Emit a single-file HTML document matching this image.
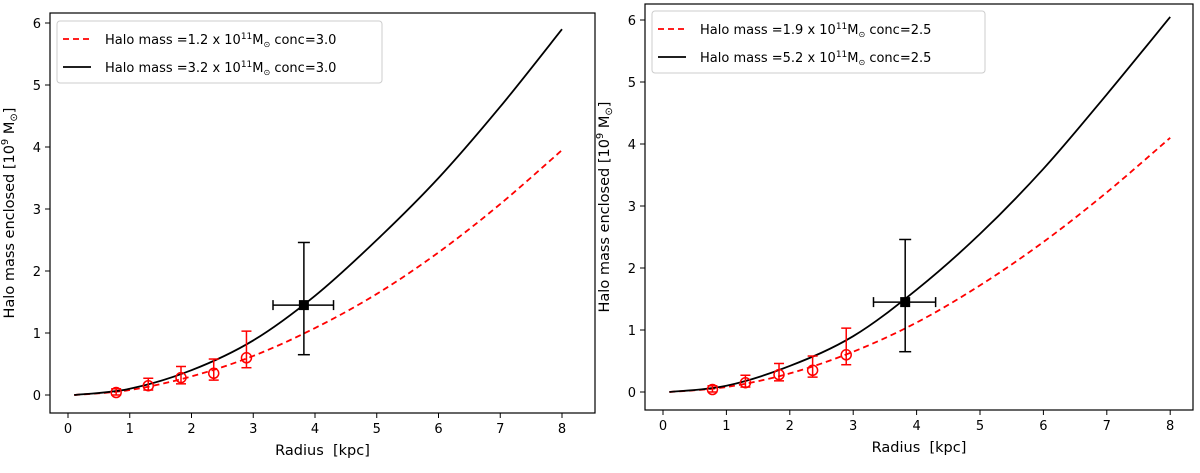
<!DOCTYPE html>
<html><head><meta charset="utf-8"><style>
body{margin:0;background:#fff;font-family:"Liberation Sans","DejaVu Sans",sans-serif}
text{font-family:"DejaVu Sans","Liberation Sans",sans-serif}
</style></head><body>
<svg id="c" width="1200" height="468" xmlns="http://www.w3.org/2000/svg"></svg>
<script>
const radiusGrid=[0.1,1,2,3,4,5,6,7,8];
const leftBlack=[0,0.1,0.4,0.88,1.6,2.5,3.5,4.65,5.9];
const leftRed=[0,0.08,0.3,0.63,1.08,1.63,2.3,3.08,3.95];
const rightBlack=[0,0.1,0.42,0.9,1.65,2.55,3.6,4.8,6.05];
const rightRed=[0,0.08,0.3,0.65,1.12,1.72,2.42,3.22,4.1];
const obsR=[0.78,1.3,1.83,2.36,2.89];
const obsM=[0.04,0.15,0.28,0.35,0.6];
const obsLo=[0,0.08,0.18,0.24,0.44];
const obsHi=[0.1,0.27,0.46,0.58,1.03];
const bigR=[3.82], bigM=[1.45], bigRlo=[3.32], bigRhi=[4.3], bigMlo=[0.65], bigMhi=[2.46];
const xTicks=[0,1,2,3,4,5,6,7,8];
const yTicks=[0,1,2,3,4,5,6];
const legendLeft=["Halo mass =1.2 x 10","Halo mass =3.2 x 10"];
const legendRight=["Halo mass =1.9 x 10","Halo mass =5.2 x 10"];
const concLeft="conc=3.0", concRight="conc=2.5";

const svg=document.getElementById('c');
const NS="http://www.w3.org/2000/svg";
function mk(tag,attrs,parent){const e=document.createElementNS(NS,tag);for(const k in attrs)e.setAttribute(k,attrs[k]);(parent||svg).appendChild(e);return e;}

function panel(p){
  const g=mk('g',{});
  
  
  const X=v=>p.x0+v*p.xs, Y=v=>p.y0-v*p.ys;
  const ax=mk('rect',{x:p.L,y:p.T,width:p.R-p.L,height:p.B-p.T,fill:'none',stroke:'#000','stroke-width':1.2},g);
  
  
  xTicks.forEach(t=>{
    mk('line',{x1:X(t),x2:X(t),y1:p.B,y2:p.B+5,stroke:'#000'},g);
    const tx=mk('text',{x:X(t),y:p.B+20,'font-size':13,'text-anchor':'middle'},g);tx.textContent=t;
    
    
  });
  yTicks.forEach(t=>{
    mk('line',{x1:p.L-5,x2:p.L,y1:Y(t),y2:Y(t),stroke:'#000'},g);
    const tx=mk('text',{x:p.L-9,y:Y(t)+5,'font-size':13,'text-anchor':'end'},g);tx.textContent=t;
    
    
  });
  const xl=mk('text',{x:(p.L+p.R)/2,y:p.B+42,'font-size':14.5,'text-anchor':'middle',style:'white-space:pre'},g);
  xl.textContent='Radius  [kpc]';
  
  
  const yl=mk('text',{transform:`translate(${p.L-36},${(p.T+p.B)/2}) rotate(-90)`,'font-size':14.5,'text-anchor':'middle'},g);
  yl.innerHTML='Halo mass enclosed [10<tspan dy="-6" font-size="10">9</tspan><tspan dy="6"> M</tspan><tspan font-size="10" dy="3">⊙</tspan><tspan dy="-3">]</tspan>';
  
  
  function curve(vals,color,dash,name){
    const pts=radiusGrid.map((r,i)=>[X(r),Y(vals[i])]);
    let d=`M${pts[0][0]},${pts[0][1]}`;
    for(let i=0;i<pts.length-1;i++){
      const p0=pts[Math.max(0,i-1)],p1=pts[i],p2=pts[i+1],p3=pts[Math.min(pts.length-1,i+2)];
      d+=` C${p1[0]+(p2[0]-p0[0])/6},${p1[1]+(p2[1]-p0[1])/6} ${p2[0]-(p3[0]-p1[0])/6},${p2[1]-(p3[1]-p1[1])/6} ${p2[0]},${p2[1]}`;
    }
    const e=mk('path',{d,fill:'none',stroke:color,'stroke-width':1.8,'stroke-dasharray':dash},g);
    
    
  }
  curve(p.red,'#f00','6,4','red-model-curve');
  curve(p.black,'#000','none','black-model-curve');
  obsR.forEach((r,i)=>{
    const cx=X(r);
    mk('line',{x1:cx,x2:cx,y1:Y(obsLo[i]),y2:Y(obsHi[i]),stroke:'#f00','stroke-width':1.5},g);
    mk('line',{x1:cx-5,x2:cx+5,y1:Y(obsLo[i]),y2:Y(obsLo[i]),stroke:'#f00','stroke-width':1.5},g);
    mk('line',{x1:cx-5,x2:cx+5,y1:Y(obsHi[i]),y2:Y(obsHi[i]),stroke:'#f00','stroke-width':1.5},g);
    const c=mk('circle',{cx,cy:Y(obsM[i]),r:5,fill:'none',stroke:'#f00','stroke-width':1.5},g);
    
    
  });
  bigR.forEach((r,i)=>{
    const cx=X(r),cy=Y(bigM[i]);
    mk('line',{x1:cx,x2:cx,y1:Y(bigMlo[i]),y2:Y(bigMhi[i]),stroke:'#000','stroke-width':1.5},g);
    mk('line',{x1:cx-6,x2:cx+6,y1:Y(bigMlo[i]),y2:Y(bigMlo[i]),stroke:'#000','stroke-width':1.5},g);
    mk('line',{x1:cx-6,x2:cx+6,y1:Y(bigMhi[i]),y2:Y(bigMhi[i]),stroke:'#000','stroke-width':1.5},g);
    mk('line',{x1:X(bigRlo[i]),x2:X(bigRhi[i]),y1:cy,y2:cy,stroke:'#000','stroke-width':1.5},g);
    mk('line',{x1:X(bigRlo[i]),x2:X(bigRlo[i]),y1:cy-5,y2:cy+5,stroke:'#000','stroke-width':1.5},g);
    mk('line',{x1:X(bigRhi[i]),x2:X(bigRhi[i]),y1:cy-5,y2:cy+5,stroke:'#000','stroke-width':1.5},g);
    const s=mk('rect',{x:cx-5,y:cy-5,width:10,height:10,fill:'#000'},g);
    
    
  });
  const lg=mk('g',{},g);
  
  
  mk('rect',{x:p.lx,y:p.ly,width:p.lw,height:62,rx:3,fill:'#fff',stroke:'#ccc'},lg);
  p.leg.forEach((t,i)=>{
    const yy=p.ly+18+i*28;
    mk('line',{x1:p.lx+6,x2:p.lx+34,y1:yy,y2:yy,stroke:i?'#000':'#f00','stroke-width':1.8,'stroke-dasharray':i?'none':'6,4'},lg);
    const tx=mk('text',{x:p.lx+48,y:yy+5,'font-size':13},lg);
    tx.innerHTML=t+'<tspan dy="-5" font-size="9">11</tspan><tspan dy="5">M</tspan><tspan dy="3" font-size="8">⊙</tspan><tspan dy="-3"> '+p.conc+'</tspan>';
    
    
  });
}
panel({name:'left-panel',L:50,R:595,T:13,B:413,x0:68,xs:61.75,y0:395,ys:62,black:leftBlack,red:leftRed,leg:legendLeft,conc:concLeft,lx:57,ly:21,lw:325});
panel({name:'right-panel',L:645,R:1193,T:4,B:410,x0:663,xs:63.4,y0:392,ys:62,black:rightBlack,red:rightRed,leg:legendRight,conc:concRight,lx:652,ly:11,lw:333});
</script>
</body></html>
